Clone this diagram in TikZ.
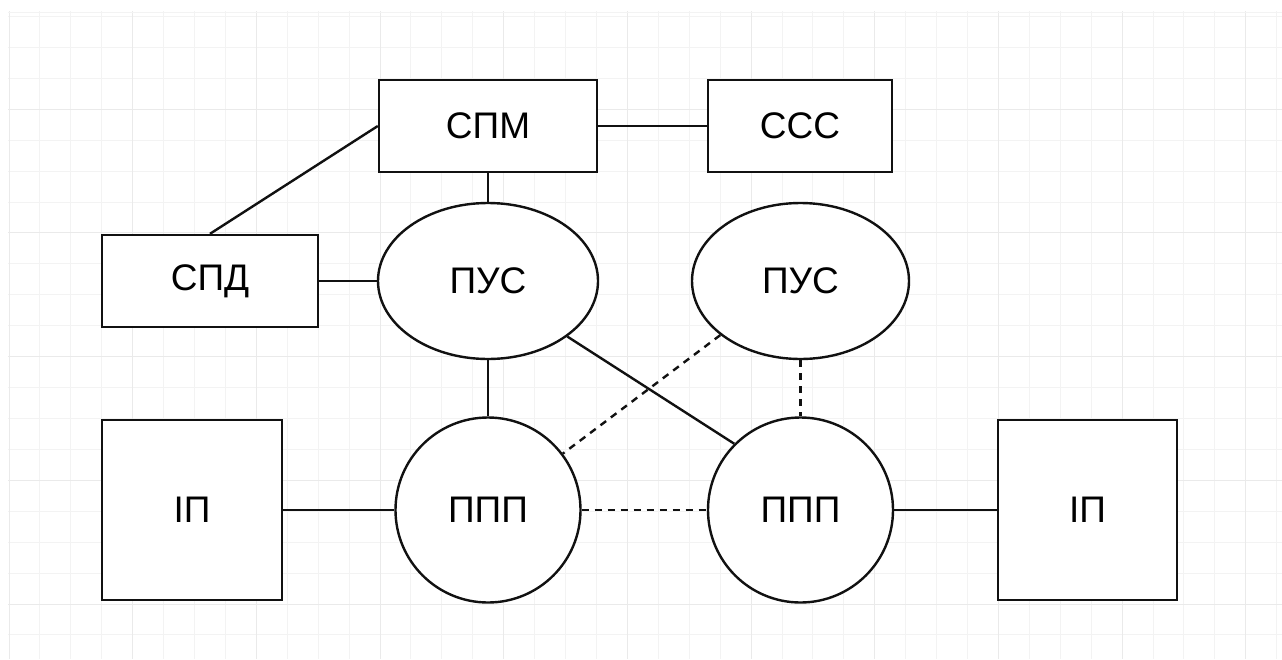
\documentclass[tikz,border=0pt]{standalone}
\usepackage{fontspec}
\setmainfont{Liberation Sans}
\usetikzlibrary{shapes.geometric}

\definecolor{gridminor}{HTML}{F3F3F3}
\definecolor{gridmajor}{HTML}{EAEAEA}
\definecolor{ink}{HTML}{111111}

\tikzset{
  conn/.style={line width=2.4pt, draw=ink},
  dashconn/.style={conn, dash pattern=on 7pt off 6pt},
  shapebase/.style={draw=ink, line width=2.4pt, fill=white, inner sep=0pt,
    font=\fontsize{37}{44}\selectfont},
  block/.style={shapebase, rectangle},
  oval/.style={shapebase, ellipse},
  disc/.style={shapebase, circle},
}

\begin{document}
\begin{tikzpicture}[x=1pt, y=-1pt]
  \useasboundingbox (0,0) rectangle (1282,659);
  \fill[white] (0,0) rectangle (1282,659);

  % background grid
  \begin{scope}
    \clip (8,11.5) rectangle (1282,659);
    \foreach \k in {-4,...,37} {
      \draw[gridminor, line width=1pt] ({132.7+30.92*\k},0) -- ({132.7+30.92*\k},659);
    }
    \foreach \k in {-3,...,18} {
      \draw[gridminor, line width=1pt] (0,{109.3+30.92*\k}) -- (1282,{109.3+30.92*\k});
    }
    \foreach \k in {-1,...,9} {
      \draw[gridmajor, line width=1pt] ({132.7+123.68*\k},0) -- ({132.7+123.68*\k},659);
    }
    \foreach \k in {0,...,4} {
      \draw[gridmajor, line width=1pt] (0,{109.3+123.68*\k}) -- (1282,{109.3+123.68*\k});
    }
    \draw[gridminor, line width=1pt] (0,12) -- (1282,12);
  \end{scope}

  % blocks
  \node[block, minimum width=218pt, minimum height=92pt] (spm) at (488,126) {СПМ};
  \node[block, minimum width=184pt, minimum height=92pt] (sss) at (800,126) {ССС};
  \node[block, minimum width=216pt, minimum height=92pt] (spd) at (210,281) {СПД};
  \node[oval, minimum width=220pt, minimum height=156pt] (pus1) at (488,281) {ПУС};
  \node[oval, minimum width=217pt, minimum height=156pt] (pus2) at (800.5,281) {ПУС};
  \node[disc, minimum size=185pt] (ppp1) at (488,510) {ППП};
  \node[disc, minimum size=185pt] (ppp2) at (800.5,510) {ППП};
  \node[block, minimum width=180pt, minimum height=180pt] (ip1) at (192,510) {ІП};
  \node[block, minimum width=179pt, minimum height=180pt] (ip2) at (1087.5,510) {ІП};

  % solid links
  \draw[conn] (spm.west) -- (spd.north);
  \draw[conn] (spm.east) -- (sss.west);
  \draw[conn] (spm.south) -- (pus1.north);
  \draw[conn] (spd.east) -- (pus1.west);
  \draw[conn] (pus1.south) -- (ppp1.north);
  \draw[conn] (pus1.-35) -- (ppp2.135);
  \draw[conn] (ip1.east) -- (ppp1.west);
  \draw[conn] (ppp2.east) -- (ip2.west);

  % dashed links
  \draw[dashconn] (pus2.-146) -- (ppp1.37);
  \draw[dashconn] (pus2.south) -- (ppp2.north);
  \draw[dashconn] (ppp1.east) -- (ppp2.west);
\end{tikzpicture}
\end{document}
